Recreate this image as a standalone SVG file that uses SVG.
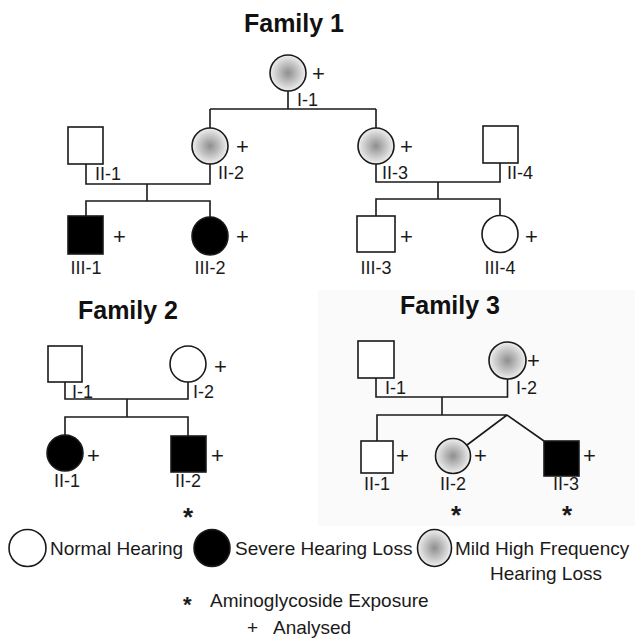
<svg xmlns="http://www.w3.org/2000/svg" width="635" height="638" viewBox="0 0 635 638">
<defs>
<radialGradient id="mg" cx="50%" cy="50%" r="50%">
<stop offset="0" stop-color="#8e8e8e"/>
<stop offset="1" stop-color="#efefef"/>
</radialGradient>
<style>
.ln{stroke:#1a1a1a;stroke-width:1.6;fill:none}
.sym{stroke:#1a1a1a;stroke-width:1.6;fill:#fff}
.aff{fill:#000}
.mild{fill:url(#mg)}
text{font-family:"Liberation Sans",Arial,Helvetica,sans-serif;fill:#1a1a1a}
.lbl{font-size:18px}
.c{text-anchor:middle}
.plus{font-size:22px}
.title{font-size:25px;font-weight:bold;text-anchor:middle;fill:#111}
.star{font-size:26px;font-weight:bold;text-anchor:middle}
.leg{font-size:19px}
.lstar{font-size:22px;font-weight:bold}
</style>
</defs>
<rect width="635" height="638" fill="#fff"/>
<rect x="318" y="290" width="317" height="236" fill="#fafafa"/>

<text class="title" x="294" y="32">Family 1</text>
<text class="title" x="128" y="319">Family 2</text>
<text class="title" x="450" y="314">Family 3</text>

<g id="connectors">
<path class="ln" d="M288 91 V109 M210 109 H376 M210 109 V128 M376 109 V128"/>
<path class="ln" d="M86 164 V184 H210 V164 M147 184 V201 M86 216 V201 H210 V217"/>
<path class="ln" d="M376 164 V182 H500 V163 M438 182 V199 M376 216 V199 H500 V216"/>
<path class="ln" d="M65 382 V399 H188 V382 M127 399 V417 M65 435 V417 H188 V436"/>
<path class="ln" d="M376 378 V397 H507.5 V379 M442 397 V415 M377 441 V415 H507 M507 415 L467 445 M507 415 L544 441"/>
</g>

<g id="f1-I-1"><circle class="sym mild" cx="288" cy="73" r="18"/><text class="plus" x="312" y="81">+</text><text class="lbl" x="297" y="106">I-1</text></g>
<g id="f1-II-1"><rect class="sym" x="68" y="127" width="35" height="37"/><text class="lbl" x="95" y="180">II-1</text></g>
<g id="f1-II-2"><circle class="sym mild" cx="210" cy="146" r="18"/><text class="plus" x="236" y="154">+</text><text class="lbl" x="218" y="179">II-2</text></g>
<g id="f1-II-3"><circle class="sym mild" cx="376" cy="146" r="18"/><text class="plus" x="400" y="154">+</text><text class="lbl" x="382" y="179">II-3</text></g>
<g id="f1-II-4"><rect class="sym" x="483" y="126" width="35" height="37"/><text class="lbl" x="507" y="179">II-4</text></g>
<g id="f1-III-1"><rect class="sym aff" x="68" y="216" width="35" height="38"/><text class="plus" x="113" y="244">+</text><text class="lbl c" x="86" y="274">III-1</text></g>
<g id="f1-III-2"><ellipse class="sym aff" cx="210" cy="236" rx="18" ry="19"/><text class="plus" x="236" y="244">+</text><text class="lbl c" x="210" y="274">III-2</text></g>
<g id="f1-III-3"><rect class="sym" x="357" y="216" width="38" height="36"/><text class="plus" x="400" y="244">+</text><text class="lbl c" x="376" y="274">III-3</text></g>
<g id="f1-III-4"><ellipse class="sym" cx="500" cy="234" rx="18" ry="18.5"/><text class="plus" x="525" y="244">+</text><text class="lbl c" x="500" y="274">III-4</text></g>

<g id="f2-I-1"><rect class="sym" x="48" y="346" width="34" height="36"/><text class="lbl" x="72" y="398">I-1</text></g>
<g id="f2-I-2"><circle class="sym" cx="188" cy="364" r="18"/><text class="plus" x="214" y="374">+</text><text class="lbl" x="193" y="398">I-2</text></g>
<g id="f2-II-1"><circle class="sym aff" cx="65" cy="453" r="18"/><text class="plus" x="87" y="463">+</text><text class="lbl c" x="67" y="487">II-1</text></g>
<g id="f2-II-2"><rect class="sym aff" x="171" y="436" width="35" height="36"/><text class="plus" x="211" y="463">+</text><text class="lbl c" x="188" y="487">II-2</text><text class="star" x="188" y="526">*</text></g>

<g id="f3-I-1"><rect class="sym" x="358" y="341" width="36" height="37"/><text class="lbl" x="385" y="394">I-1</text></g>
<g id="f3-I-2"><circle class="sym mild" cx="507.5" cy="360.5" r="18.5"/><text class="plus" x="527" y="368">+</text><text class="lbl" x="516" y="394">I-2</text></g>
<g id="f3-II-1"><rect class="sym" x="361" y="441" width="32" height="32"/><text class="plus" x="396" y="463">+</text><text class="lbl c" x="377" y="490">II-1</text></g>
<g id="f3-II-2"><circle class="sym mild" cx="453" cy="456" r="17.5"/><text class="plus" x="474" y="463">+</text><text class="lbl c" x="453" y="490">II-2</text><text class="star" x="456" y="524">*</text></g>
<g id="f3-II-3"><rect class="sym aff" x="544" y="441" width="35" height="35"/><text class="plus" x="583" y="463">+</text><text class="lbl c" x="566" y="490">II-3</text><text class="star" x="567" y="524">*</text></g>

<g id="legend">
<ellipse class="sym" cx="27.5" cy="548" rx="18.5" ry="18.5"/>
<text class="leg" x="50" y="555">Normal Hearing</text>
<ellipse class="sym aff" cx="212" cy="548" rx="18" ry="18.5"/>
<text class="leg" x="235" y="555">Severe Hearing Loss</text>
<ellipse class="sym mild" cx="434.5" cy="548" rx="17" ry="18.5"/>
<text class="leg" x="455" y="555">Mild High Frequency</text>
<text class="leg" x="490" y="580">Hearing Loss</text>
<text class="lstar" x="183" y="612">*</text>
<text class="leg" x="210" y="607">Aminoglycoside Exposure</text>
<text class="leg" x="247" y="634">+</text>
<text class="leg" x="273" y="634">Analysed</text>
</g>
</svg>
